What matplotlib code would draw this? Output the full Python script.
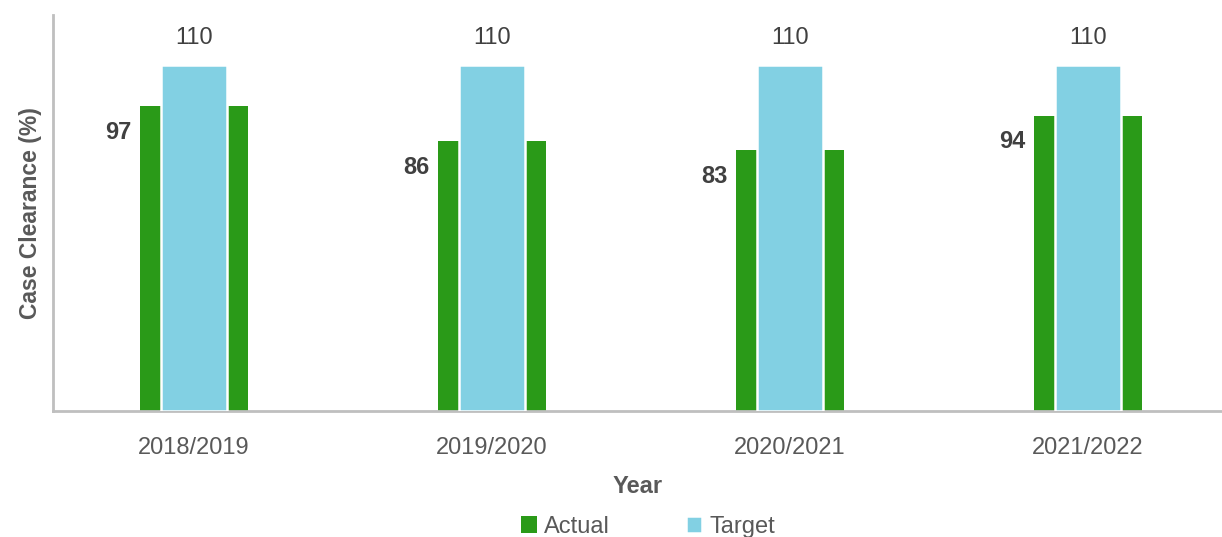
import numpy as np
import matplotlib.pyplot as plt

plt.rcParams["font.family"] = ["Liberation Sans", "DejaVu Sans"]

YEARS = ["2018/2019", "2019/2020", "2020/2021", "2021/2022"]
ACTUAL = [97, 86, 83, 94]
TARGET = [110, 110, 110, 110]

GREEN = "#2a9a18"
BLUE = "#82d0e3"
GREY_TEXT = "#595959"
DARK_TEXT = "#404040"


def main():
    fig = plt.figure(figsize=(12.22, 5.37), dpi=100)
    ax = fig.add_axes([53 / 1222, 126 / 537, 1 - 53 / 1222, 396 / 537])

    x = np.arange(len(YEARS))

    # Actual is the wide bar behind, target sits on top of it
    actual_bars = ax.bar(x, ACTUAL, width=0.362, color=GREEN, label="Actual", zorder=2)
    target_bars = ax.bar(x, TARGET, width=0.222, color=BLUE, edgecolor="white",
                         linewidth=1.8, label="Target", zorder=3)

    for bar, val in zip(target_bars, TARGET):
        ax.annotate(str(val), (bar.get_x() + bar.get_width() / 2, val),
                    xytext=(0, 12), textcoords="offset points",
                    ha="center", va="bottom", fontsize=17, color=DARK_TEXT)

    for bar, val in zip(actual_bars, ACTUAL):
        ax.annotate(str(val), (bar.get_x(), val),
                    xytext=(-6, -19), textcoords="offset points",
                    ha="right", va="center", fontsize=17,
                    fontweight="bold", color=DARK_TEXT)

    ax.set_xlim(-0.473, 3.45)
    ax.set_ylim(0, 126)
    ax.set_xticks(x)
    ax.set_xticklabels(YEARS, fontsize=17, color=GREY_TEXT)
    ax.set_yticks([])
    ax.tick_params(axis="x", length=0, pad=18.5)

    for side in ["top", "right"]:
        ax.spines[side].set_visible(False)
    for side in ["left", "bottom"]:
        ax.spines[side].set_color("#bfbfbf")
        ax.spines[side].set_linewidth(2)

    ax.set_xlabel("Year", fontsize=17, fontweight="bold", color=GREY_TEXT, labelpad=12)
    ax.set_ylabel("Case Clearance (%)", fontsize=16.5, fontweight="bold",
                  color=GREY_TEXT, labelpad=8)

    leg = fig.legend(handles=[actual_bars, target_bars], labels=["Actual", "Target"],
                     loc="center", bbox_to_anchor=(648 / 1222, 1 - 527 / 537),
                     ncol=2, frameon=False, fontsize=17,
                     handlelength=0.7, handleheight=0.7, handletextpad=0.3,
                     columnspacing=3.2)
    for text in leg.get_texts():
        text.set_color(GREY_TEXT)

    fig.savefig("out.png", dpi=100)


if __name__ == "__main__":
    main()
